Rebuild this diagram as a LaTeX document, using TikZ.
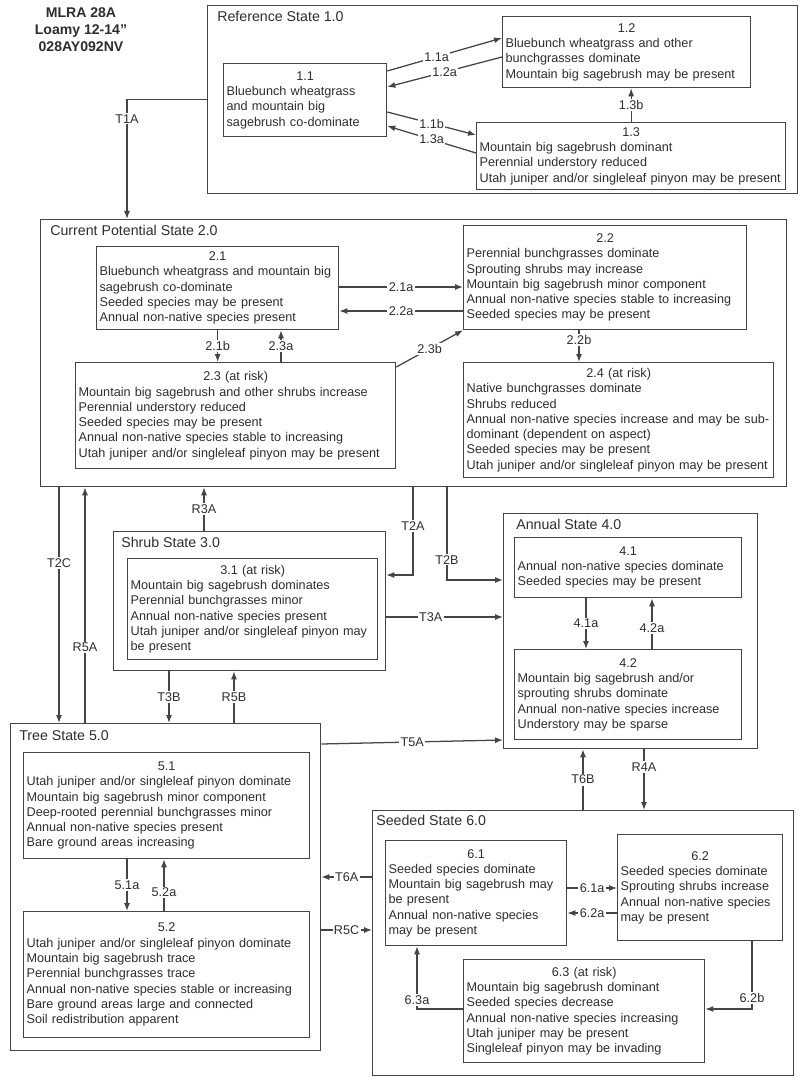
\documentclass[tikz,border=0pt]{standalone}
\usepackage{fontspec}
\setmainfont{Liberation Sans}
\usepackage{tikz}
\usetikzlibrary{arrows.meta}

\newcommand{\px}{0.025cm}
\newcommand{\boxhead}[1]{\hspace*{\fill}#1\hspace*{\fill}\null\\}
\definecolor{ink}{HTML}{2E2E2E}
\definecolor{edge}{HTML}{454545}

\begin{document}
\begin{tikzpicture}[x=\px, y=-\px,
    every node/.style={text=ink},
    state/.style={draw=edge, line width=0.9pt, anchor=north west, inner sep=0pt},
    stitle/.style={anchor=north west, inner sep=0pt, font=\fontsize{10.1}{12}\selectfont},
    phase/.style={draw=edge, line width=0.9pt, anchor=north west, align=left, inner xsep=3*\px, inner ysep=3*\px, font=\fontsize{9}{10.85}\selectfont},
    arr/.style={draw=edge, line width=0.9pt, -{Latex[length=2mm,width=1.5mm]}},
    lbl/.style={fill=white, inner sep=1pt, font=\fontsize{9}{10.85}\selectfont}]
    \fill[white] (0,0) rectangle (800,1077);
    \useasboundingbox (0,0) rectangle (800,1077);

    % Title
    \node[font=\bfseries\fontsize{10}{12}\selectfont, align=center] (title) at (81,30) {MLRA 28A\\Loamy 12-14"\\028AY092NV};

    % States
    \node[state, minimum width=590*\px, minimum height=188*\px] (ref) at (207,5) {};
    \node[stitle] (reft) at ([shift={(10,6)}]ref.north west) {Reference State 1.0};
    \node[state, minimum width=746*\px, minimum height=267*\px] (cur) at (40,219) {};
    \node[stitle] (curt) at ([shift={(10,6)}]cur.north west) {Current Potential State 2.0};
    \node[state, minimum width=272*\px, minimum height=139*\px] (shrub) at (113,531) {};
    \node[stitle] (shrubt) at ([shift={(8,6)}]shrub.north west) {Shrub State 3.0};
    \node[state, minimum width=254*\px, minimum height=235*\px] (annual) at (503,513) {};
    \node[stitle] (annualt) at ([shift={(13,6)}]annual.north west) {Annual State 4.0};
    \node[state, minimum width=310*\px, minimum height=327*\px] (tree) at (10,723) {};
    \node[stitle] (treet) at ([shift={(9,7)}]tree.north west) {Tree State 5.0};
    \node[state, minimum width=421*\px, minimum height=265*\px] (seeded) at (372,810) {};
    \node[stitle] (seededt) at ([shift={(4,5)}]seeded.north west) {Seeded State 6.0};

    % Phases
    \node[phase, text width=3.925cm, minimum height=73*\px] (b11) at (223,63) {\boxhead{1.1}Bluebunch wheatgrass\\and mountain big\\sagebrush co-dominate};
    \node[phase, text width=6.05cm, minimum height=71*\px] (b12) at (502,16) {\boxhead{1.2}Bluebunch wheatgrass and other\\bunchgrasses dominate\\Mountain big sagebrush may be present};
    \node[phase, text width=7.575cm, minimum height=67*\px] (b13) at (476,122) {\boxhead{1.3}Mountain big sagebrush dominant\\Perennial understory reduced\\Utah juniper and/or singleleaf pinyon may be present};

    \node[phase, text width=5.9cm, minimum height=83*\px] (b21) at (96,246) {\boxhead{2.1}Bluebunch wheatgrass and mountain big\\sagebrush co-dominate\\Seeded species may be present\\Annual non-native species present};
    \node[phase, text width=6.925cm, minimum height=104*\px] (b22) at (463,225) {\boxhead{2.2}Perennial bunchgrasses dominate\\Sprouting shrubs may increase\\Mountain big sagebrush minor component\\Annual non-native species stable to increasing\\Seeded species may be present};
    \node[phase, text width=7.85cm, minimum height=106*\px] (b23) at (75,362) {\boxhead{2.3 (at risk)}Mountain big sagebrush and other shrubs increase\\Perennial understory reduced\\Seeded species may be present\\Annual non-native species stable to increasing\\Utah juniper and/or singleleaf pinyon may be present};
    \node[phase, text width=7.6cm, minimum height=115*\px] (b24) at (463,362) {\boxhead{2.4 (at risk)}Native bunchgrasses dominate\\Shrubs reduced\\Annual non-native species increase and may be sub-\\dominant (dependent on aspect)\\Seeded species may be present\\Utah juniper and/or singleleaf pinyon may be present};

    \node[phase, text width=6.1cm, minimum height=101*\px] (b31) at (127,558) {\boxhead{3.1 (at risk)}Mountain big sagebrush dominates\\Perennial bunchgrasses minor\\Annual non-native species present\\Utah juniper and/or singleleaf pinyon may\\be present};

    \node[phase, text width=5.525cm, minimum height=60*\px] (b41) at (514,537) {\boxhead{4.1}Annual non-native species dominate\\Seeded species may be present};
    \node[phase, text width=5.525cm, minimum height=90*\px] (b42) at (514,649) {\boxhead{4.2}Mountain big sagebrush and/or\\sprouting shrubs dominate\\Annual non-native species increase\\Understory may be sparse};

    \node[phase, text width=7cm, minimum height=106*\px] (b51) at (23,752) {\boxhead{5.1}Utah juniper and/or singleleaf pinyon dominate\\Mountain big sagebrush minor component\\Deep-rooted perennial bunchgrasses minor\\Annual non-native species present\\Bare ground areas increasing};
    \node[phase, text width=7cm, minimum height=126*\px] (b52) at (23,911) {\boxhead{5.2}Utah juniper and/or singleleaf pinyon dominate\\Mountain big sagebrush trace\\Perennial bunchgrasses trace\\Annual non-native species stable or increasing\\Bare ground areas large and connected\\Soil redistribution apparent};

    \node[phase, text width=4.375cm, minimum height=105*\px] (b61) at (385,840) {\boxhead{6.1}Seeded species dominate\\Mountain big sagebrush may\\be present\\Annual non-native species\\may be present};
    \node[phase, text width=3.975cm, minimum height=106*\px] (b62) at (617,834) {\boxhead{6.2}Seeded species dominate\\Sprouting shrubs increase\\Annual non-native species\\may be present};
    \node[phase, text width=5.875cm, minimum height=103*\px] (b63) at (463,959) {\boxhead{6.3 (at risk)}Mountain big sagebrush dominant\\Seeded species decrease\\Annual non-native species increasing\\Utah juniper may be present\\Singleleaf pinyon may be invading};

    % Arrows inside states
    \draw[arr] ([shift={(0,8)}]b11.north east) -- ([shift={(0,22)}]b12.north west) node[lbl, pos=0.43] (l11a) {1.1a};
    \draw[arr] ([shift={(0,41)}]b12.north west) -- ([shift={(0,24)}]b11.north east) node[lbl, midway] (l12a) {1.2a};
    \draw[arr] ([shift={(0,49)}]b11.north east) -- ([shift={(0,13)}]b13.north west) node[lbl, midway] (l11b) {1.1b};
    \draw[arr] ([shift={(0,31)}]b13.north west) -- ([shift={(0,63)}]b11.north east) node[lbl, midway] (l13a) {1.3a};
    \draw[arr] (b13.north) -- (b13.north |- b12.south) node[lbl, midway] (l13b) {1.3b};

    \draw[arr] ([shift={(0,41)}]b21.north east) -- ([shift={(0,62)}]b22.north west) node[lbl, midway] (l21a) {2.1a};
    \draw[arr] ([shift={(0,86)}]b22.north west) -- ([shift={(0,65)}]b21.north east) node[lbl, midway] (l22a) {2.2a};
    \draw[arr] (b21.south) -- (b21.south |- b23.north) node[lbl, midway] (l21b) {2.1b};
    \draw[arr] ([shift={(206,0)}]b23.north west) -- ([shift={(185,0)}]b21.south west) node[lbl, midway] (l23a) {2.3a};
    \draw[arr] ([shift={(0,5)}]b23.north east) -- (b22.south west) node[lbl, midway] (l23b) {2.3b};
    \draw[arr] ([shift={(116,0)}]b22.south west) -- ([shift={(116,0)}]b24.north west) node[lbl, pos=0.3] (l22b) {2.2b};

    \draw[arr] ([shift={(72,0)}]b41.south west) -- ([shift={(72,0)}]b42.north west) node[lbl, midway] (l41a) {4.1a};
    \draw[arr] ([shift={(138,0)}]b42.north west) -- ([shift={(138,0)}]b41.south west) node[lbl, pos=0.42] (l42a) {4.2a};

    \draw[arr] ([shift={(104,0)}]b51.south west) -- ([shift={(104,0)}]b52.north west) node[lbl, midway] (l51a) {5.1a};
    \draw[arr] ([shift={(141,0)}]b52.north west) -- ([shift={(141,0)}]b51.south west) node[lbl, pos=0.36] (l52a) {5.2a};

    \draw[arr] ([shift={(0,48)}]b61.north east) -- ([shift={(0,54)}]b62.north west) node[lbl, midway] (l61a) {6.1a};
    \draw[arr] ([shift={(0,79)}]b62.north west) -- ([shift={(0,73)}]b61.north east) node[lbl, midway] (l62a) {6.2a};
    \draw[arr] ([shift={(135,0)}]b62.south west) |- ([shift={(0,50)}]b63.north east) node[lbl, pos=0.42] (l62b) {6.2b};
    \draw[arr] ([shift={(0,50)}]b63.north west) -| ([shift={(32,0)}]b61.south west) node[lbl, pos=0.57] (l63a) {6.3a};

    % Arrows between states
    \draw[arr] (ref.west) -| ([shift={(87,0)}]cur.north west) node[lbl, pos=0.58] (t1a) {T1A};
    \draw[arr] ([shift={(19,0)}]cur.south west) -- ([shift={(49,0)}]tree.north west) node[lbl, pos=0.32] (t2c) {T2C};
    \draw[arr] ([shift={(75,0)}]tree.north west) -- ([shift={(45,0)}]cur.south west) node[lbl, pos=0.32] (r5a) {R5A};
    \draw[arr] ([shift={(91,0)}]shrub.north west) -- ([shift={(164,0)}]cur.south west) node[lbl, midway] (r3a) {R3A};
    \draw[arr] ([shift={(373,0)}]cur.south west) |- ([shift={(0,44)}]shrub.north east) node[lbl, pos=0.22] (t2a) {T2A};
    \draw[arr] ([shift={(407,0)}]cur.south west) |- ([shift={(0,67)}]annual.north west) node[lbl, pos=0.39] (t2b) {T2B};
    \draw[arr] ([shift={(0,86)}]shrub.north east) -- ([shift={(0,104)}]annual.north west) node[lbl, pos=0.38] (t3a) {T3A};
    \draw[arr] ([shift={(56,0)}]shrub.south west) -- ([shift={(159,0)}]tree.north west) node[lbl, midway] (t3b) {T3B};
    \draw[arr] ([shift={(224,0)}]tree.north west) -- ([shift={(121,0)}]shrub.south west) node[lbl, midway] (r5b) {R5B};
    \draw[arr] ([shift={(0,21)}]tree.north east) -- ([shift={(0,227)}]annual.north west) node[lbl, midway] (t5a) {T5A};
    \draw[arr] ([shift={(211,0)}]seeded.north west) -- ([shift={(80,0)}]annual.south west) node[lbl, midway] (t6b) {T6B};
    \draw[arr] ([shift={(141,0)}]annual.south west) -- ([shift={(272,0)}]seeded.north west) node[lbl, pos=0.29] (r4a) {R4A};
    \draw[arr] ([shift={(0,67)}]seeded.north west) -- ([shift={(0,154)}]tree.north east) node[lbl, midway] (t6a) {T6A};
    \draw[arr] ([shift={(0,207)}]tree.north east) -- ([shift={(0,120)}]seeded.north west) node[lbl, midway] (r5c) {R5C};
\end{tikzpicture}
\end{document}
